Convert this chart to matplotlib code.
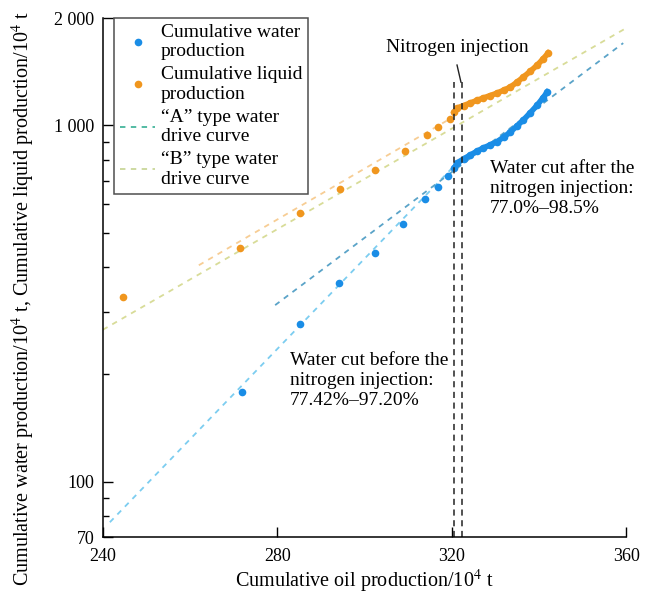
import matplotlib
matplotlib.use("Agg")
import matplotlib.pyplot as plt
import numpy as np

plt.rcParams['font.family'] = ['Liberation Serif', 'DejaVu Serif']
plt.rcParams['mathtext.fontset'] = 'stix'

# cumulative water production, before nitrogen injection
water_before_x = [271.9, 285.2, 294.2, 302.4, 308.8, 313.9, 316.9, 319.2]
water_before_y = [179, 277, 361, 438, 529, 621, 671, 721]
# cumulative water production, after nitrogen injection
water_after_x = [320.6, 321.2, 322.7, 324.2, 325.7, 327.2, 328.8, 330.4, 331.9,
                 333.4, 334.9, 336.4, 338.0, 339.6, 340.8, 341.9]
water_after_y = [760, 784, 805, 825, 845, 864, 881, 900, 927,
                 957, 995, 1035, 1085, 1140, 1190, 1240]

# cumulative liquid production, before nitrogen injection
liquid_before_x = [244.6, 271.4, 285.2, 294.4, 302.4, 309.3, 314.3, 316.9, 319.6]
liquid_before_y = [330, 453, 568, 663, 749, 847, 939, 989, 1041]
# cumulative liquid production, after nitrogen injection
liquid_after_x = [320.6, 321.2, 322.7, 324.2, 325.7, 327.2, 328.8, 330.4, 331.9,
                  333.4, 334.9, 336.4, 338.0, 339.6, 340.8, 342.1]
liquid_after_y = [1090, 1118, 1136, 1155, 1174, 1193, 1212, 1232, 1255,
                  1280, 1320, 1366, 1418, 1476, 1530, 1595]

# fitted water drive curves (end points)
a_before_x = [241.6, 320.3]
a_before_y = [77, 764]
a_after_x = [279.5, 359.3]
a_after_y = [313, 1701]
b_before_x = [262.0, 320.0]
b_before_y = [405, 1050]
b_after_x = [240.0, 360.0]
b_after_y = [267, 1875]

injection_x = [320.4, 322.3]

blue = '#1a8de6'
orange = '#f0961e'
fs = 14

fig = plt.figure(figsize=(6.51, 5.97), dpi=100)
ax = fig.add_axes([0.158, 0.1005, 0.804, 0.8693])

ax.plot(a_before_x, a_before_y, '--', color='#7ccdf0', lw=1.3, dashes=(3, 3))
ax.plot(a_after_x, a_after_y, '--', color='#5aa3c8', lw=1.3, dashes=(3, 3))
ax.plot(b_before_x, b_before_y, '--', color='#f7cd94', lw=1.3, dashes=(3, 3))
ax.plot(b_after_x, b_after_y, '--', color='#d8dc98', lw=1.3, dashes=(3, 3))

ax.plot(water_before_x, water_before_y, 'o', color=blue, ms=5.5, mec='none')
ax.plot(water_after_x, water_after_y, 'o-', color=blue, ms=5.5, lw=4, mec='none')
ax.plot(liquid_before_x, liquid_before_y, 'o', color=orange, ms=5.5, mec='none')
ax.plot(liquid_after_x, liquid_after_y, 'o-', color=orange, ms=5.5, lw=4, mec='none')

for xv in injection_x:
    ax.plot([xv, xv], [70, 1322], '--', color='#222222', lw=1.1, dashes=(4, 3))
ax.plot([321.2, 322.1], [1476, 1322], color='#222222', lw=1)
ax.text(321.2, 1650, 'Nitrogen injection', ha='center', va='center', fontsize=fs)

ax.text(328.8, 800, 'Water cut after the\nnitrogen injection:\n77.0%\u201398.5%',
        ha='left', va='top', fontsize=fs, linespacing=1.25)
ax.text(282.9, 232, 'Water cut before the\nnitrogen injection:\n77.42%\u201397.20%',
        ha='left', va='top', fontsize=fs, linespacing=1.25)

ax.set_yscale('log')
ax.set_xlim(240, 360)
ax.set_ylim(70, 2000)
ax.set_xticks([240, 280, 320, 360])
ax.set_yticks([70, 100, 1000, 2000])
ax.set_yticklabels(['70', '100', '1 000', '2 000'])
ax.set_yticks([80, 90, 200, 300, 400, 500, 600, 700, 800, 900], minor=True)
ax.yaxis.set_minor_formatter(matplotlib.ticker.NullFormatter())
ax.tick_params(axis='both', which='both', direction='in', labelsize=13, pad=6)
ax.tick_params(axis='x', which='major', pad=8)
ax.tick_params(axis='both', which='major', length=7, width=1)
ax.tick_params(axis='y', which='minor', length=4, width=1)
ax.spines['top'].set_visible(False)
ax.spines['right'].set_visible(False)
for s in ['left', 'bottom']:
    ax.spines[s].set_linewidth(1.1)

ax.set_xlabel('Cumulative oil production/10$^4$ t', fontsize=14.5, labelpad=2)
ax.set_ylabel('Cumulative water production/10$^4$ t, Cumulative liquid production/10$^4$ t',
              fontsize=14.5, labelpad=4)
ax.yaxis.set_label_coords(-0.125, 0.46)

handles = [
    plt.Line2D([], [], ls='none', marker='o', color=blue, ms=5.5, mec='none'),
    plt.Line2D([], [], ls='none', marker='o', color=orange, ms=5.5, mec='none'),
    plt.Line2D([], [], ls='--', color='#45b59c', lw=1.3, dashes=(3, 3)),
    plt.Line2D([], [], ls='--', color='#c9d79a', lw=1.3, dashes=(3, 3)),
]
labels = ['Cumulative water\nproduction', 'Cumulative liquid\nproduction',
          '\u201cA\u201d type water\ndrive curve', '\u201cB\u201d type water\ndrive curve']
leg = ax.legend(handles, labels, loc='upper left', bbox_to_anchor=(0.022, 1.0),
                fontsize=fs, frameon=True, fancybox=False, numpoints=1,
                handlelength=1.8, handletextpad=0.3, labelspacing=0.3,
                borderpad=0.3, borderaxespad=0.0)
leg.get_frame().set_edgecolor('#222222')
leg.get_frame().set_linewidth(1.1)

fig.savefig('out.png', dpi=100)
